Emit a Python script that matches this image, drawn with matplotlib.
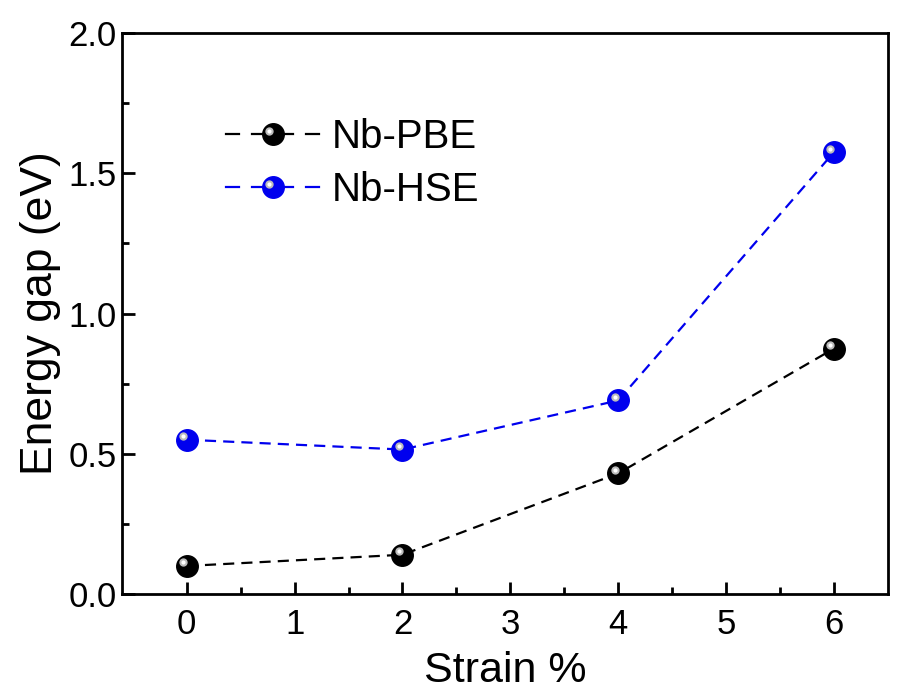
import matplotlib
matplotlib.use("Agg")
import matplotlib.pyplot as plt
import matplotlib.transforms as mtransforms
from matplotlib.lines import Line2D
from matplotlib.legend_handler import HandlerBase

plt.rcParams['font.family'] = ['Liberation Sans', 'DejaVu Sans']

strain = [0, 2, 4, 6]
pbe = [0.10, 0.14, 0.43, 0.875]
hse = [0.55, 0.515, 0.69, 1.575]
labels = ["Nb-PBE", "Nb-HSE"]
colors = ["black", "#0000ee"]

MS = 15.5
fig = plt.figure(figsize=(9.06, 6.99), dpi=100)
ax = fig.add_axes([0.1347, 0.1502, 0.8453, 0.8026])

handles = []
for y, c, lab in zip([pbe, hse], colors, labels):
    ax.plot(strain, y, color=c, lw=1.6, dashes=(5, 3.2), zorder=2)
    ax.plot(strain, y, ls='none', marker='o', ms=MS, mfc=c, mec=c, zorder=3)
    off = mtransforms.offset_copy(ax.transData, fig=fig, x=-2.5, y=2.5, units='points')
    ax.plot(strain, y, ls='none', marker='o', ms=6, mfc='#bbbbbb', mec='none',
            transform=off, zorder=4)
    ax.plot(strain, y, ls='none', marker='o', ms=3, mfc='white', mec='none',
            transform=off, zorder=5)
    handles.append(Line2D([], [], color=c))


class H(HandlerBase):
    def create_artists(self, legend, orig, xdescent, ydescent, width, height, fontsize, trans):
        c = orig.get_color()
        cy = height / 2 - ydescent
        x0 = -xdescent
        arts = []
        for a, b in [(0.0, 0.14), (0.28, 0.72), (0.86, 1.0)]:
            arts.append(Line2D([x0 + a * width, x0 + b * width], [cy, cy], color=c, lw=1.6, transform=trans))
        cx = x0 + width / 2
        arts.append(Line2D([cx], [cy], ls='none', marker='o', ms=MS, mfc=c, mec=c, transform=trans))
        arts.append(Line2D([cx - 2.5], [cy + 2.5], ls='none', marker='o', ms=6, mfc='#bbbbbb', mec='none', transform=trans))
        arts.append(Line2D([cx - 2.5], [cy + 2.5], ls='none', marker='o', ms=3, mfc='white', mec='none', transform=trans))
        return arts


leg = ax.legend(handles, labels, handler_map={Line2D: H()}, loc='upper left',
                bbox_to_anchor=(0.136, 0.848), frameon=False, fontsize=29, handlelength=2.3,
                labelspacing=0.37, handletextpad=0.33, borderpad=0, borderaxespad=0)

ax.set_xlim(-0.6, 6.5)
ax.set_ylim(0, 2.0)
ax.set_xticks([0, 1, 2, 3, 4, 5, 6])
ax.set_yticks([0.0, 0.5, 1.0, 1.5, 2.0])
ax.set_yticklabels(["0.0", "0.5", "1.0", "1.5", "2.0"])
ax.set_xticks([0.5, 1.5, 2.5, 3.5, 4.5, 5.5], minor=True)
ax.set_yticks([0.25, 0.75, 1.25, 1.75], minor=True)
ax.tick_params(which='both', direction='in', top=False, right=False, width=2, labelsize=25)
ax.tick_params(which='major', length=9)
ax.tick_params(which='minor', length=5)
ax.tick_params(axis='x', which='major', pad=10)
ax.tick_params(axis='y', which='major', pad=4)
for s in ax.spines.values():
    s.set_linewidth(2)
ax.set_xlabel("Strain %", fontsize=31, labelpad=7)
ax.set_ylabel("Energy gap (eV)", fontsize=32, labelpad=5)

fig.savefig("out.png", dpi=100)
